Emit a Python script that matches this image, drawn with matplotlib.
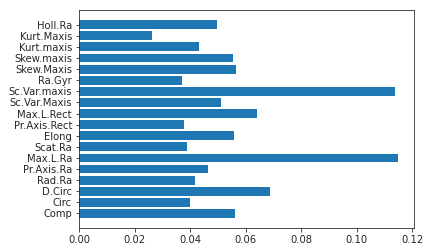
import matplotlib
matplotlib.use("Agg")
import matplotlib.pyplot as plt

features = [
    "Comp", "Circ", "D.Circ", "Rad.Ra", "Pr.Axis.Ra", "Max.L.Ra", "Scat.Ra",
    "Elong", "Pr.Axis.Rect", "Max.L.Rect", "Sc.Var.Maxis", "Sc.Var.maxis",
    "Ra.Gyr", "Skew.Maxis", "Skew.maxis", "Kurt.maxis", "Kurt.Maxis", "Holl.Ra",
]
importance = [
    0.0562, 0.0399, 0.0688, 0.0417, 0.0464, 0.1150, 0.0388,
    0.0558, 0.0377, 0.0641, 0.0511, 0.1139,
    0.0370, 0.0565, 0.0554, 0.0432, 0.0262, 0.0497,
]

fig = plt.figure(figsize=(429 / 72, 252 / 72), dpi=72)
ax = fig.add_axes([0.184, 0.096, 0.782, 0.863])
ax.barh(features, importance, color="#1f77b4")
ax.set_xticks([0.0, 0.02, 0.04, 0.06, 0.08, 0.10, 0.12])
for spine in ax.spines.values():
    spine.set_color("#262626")
ax.tick_params(colors="#262626", labelsize=10)

fig.savefig("out.png", dpi=72)
